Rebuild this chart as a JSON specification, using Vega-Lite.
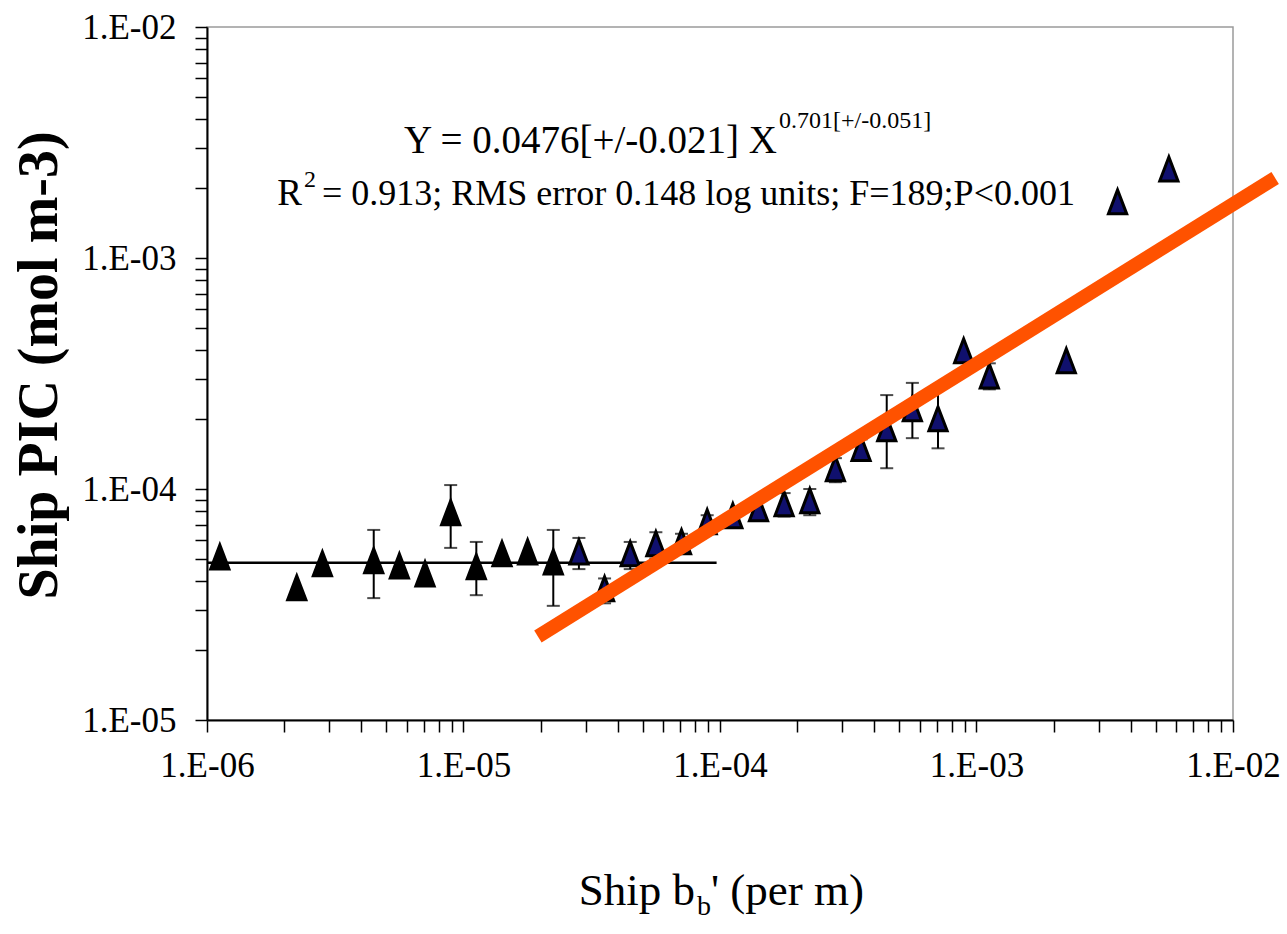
{
  "$schema": "https://vega.github.io/schema/vega-lite/v6.json",
  "width": 1026,
  "height": 693,
  "autosize": {"type": "none"},
  "padding": {"left": 207, "top": 27, "right": 54, "bottom": 214},
  "background": "white",
  "config": {
    "view": {"stroke": "#9a9a9a", "strokeWidth": 1.5},
    "axis": {
      "domainColor": "black", "domainWidth": 2, "tickColor": "black", "tickWidth": 1.5,
      "tickSize": 12, "labelFont": "Liberation Serif", "labelFontSize": 35, "labelColor": "black",
      "grid": false, "labelOverlap": false, "labelFlush": false
    },
    "text": {"font": "Liberation Serif", "color": "black"}
  },
  "encoding": {
    "x": {"field": "x", "type": "quantitative",
      "scale": {"type": "log", "domain": [1e-6, 1e-2], "nice": false},
      "axis": {"title": null, "labelPadding": 16,
        "values": [1e-6,2e-6,3e-6,4e-6,5e-6,6e-6,7e-6,8e-6,9e-6,1e-5,2e-5,3e-5,4e-5,5e-5,6e-5,7e-5,8e-5,9e-5,1e-4,2e-4,3e-4,4e-4,5e-4,6e-4,7e-4,8e-4,9e-4,1e-3,2e-3,3e-3,4e-3,5e-3,6e-3,7e-3,8e-3,9e-3,1e-2],
        "labelExpr": "abs(log(datum.value)/LN10 - round(log(datum.value)/LN10)) < 0.001 ? '1.E-0' + toString(-round(log(datum.value)/LN10)) : ''"}},
    "y": {"field": "y", "type": "quantitative",
      "scale": {"type": "log", "domain": [1e-5, 1e-2], "nice": false},
      "axis": {"title": "Ship PIC (mol m-3)", "labelPadding": 19,
        "titleFont": "Liberation Serif", "titleFontWeight": "bold", "titleFontSize": 56, "titleColor": "black",
        "titleX": -168, "titleY": 338, "titleAngle": -90, "titleAlign": "center", "titleBaseline": "middle",
        "values": [1e-5,2e-5,3e-5,4e-5,5e-5,6e-5,7e-5,8e-5,9e-5,1e-4,2e-4,3e-4,4e-4,5e-4,6e-4,7e-4,8e-4,9e-4,1e-3,2e-3,3e-3,4e-3,5e-3,6e-3,7e-3,8e-3,9e-3,1e-2],
        "labelExpr": "abs(log(datum.value)/LN10 - round(log(datum.value)/LN10)) < 0.001 ? '1.E-0' + toString(-round(log(datum.value)/LN10)) : ''"}}
  },
  "layer": [
    {
      "data": {"values": [{"x": 1e-6, "y": 4.8e-5}, {"x": 9.7e-5, "y": 4.8e-5}]},
      "mark": {"type": "line", "color": "black", "strokeWidth": 2.5}
    },
    {
      "data": {"values": [
        {"x": 4.467e-6, "y": 3.37e-5, "hi": 6.65e-5},
        {"x": 8.913e-6, "y": 5.56e-5, "hi": 1.04e-4},
        {"x": 1.122e-5, "y": 3.47e-5, "hi": 5.9e-5},
        {"x": 2.239e-5, "y": 3.12e-5, "hi": 6.65e-5},
        {"x": 2.818e-5, "y": 4.5e-5, "hi": 6.14e-5},
        {"x": 3.548e-5, "y": 3.2e-5, "hi": 4.1e-5},
        {"x": 4.467e-5, "y": 4.5e-5, "hi": 5.9e-5},
        {"x": 5.623e-5, "y": 5.0e-5, "hi": 6.5e-5},
        {"x": 7.079e-5, "y": 5.3e-5, "hi": 6.4e-5},
        {"x": 8.913e-5, "y": 6.6e-5, "hi": 7.7e-5},
        {"x": 1.778e-4, "y": 7.6e-5, "hi": 9.6e-5},
        {"x": 2.239e-4, "y": 7.7e-5, "hi": 1.0e-4},
        {"x": 2.818e-4, "y": 1.07e-4, "hi": 1.36e-4},
        {"x": 3.548e-4, "y": 1.34e-4, "hi": 1.64e-4},
        {"x": 4.467e-4, "y": 1.23e-4, "hi": 2.55e-4},
        {"x": 5.623e-4, "y": 1.66e-4, "hi": 2.88e-4},
        {"x": 7.079e-4, "y": 1.50e-4, "hi": 2.69e-4},
        {"x": 1.122e-3, "y": 2.7e-4, "hi": 3.5e-4}
      ]},
      "mark": {"type": "errorbar", "ticks": {"size": 13, "thickness": 2, "color": "black"}, "rule": {"strokeWidth": 2, "color": "black"}},
      "encoding": {"y2": {"field": "hi"}}
    },
    {
      "data": {"values": [
        {"x": 1.122e-6, "y": 5.02e-5, "grp": "black"},
        {"x": 2.239e-6, "y": 3.69e-5, "grp": "black"},
        {"x": 2.818e-6, "y": 4.69e-5, "grp": "black"},
        {"x": 4.467e-6, "y": 4.83e-5, "grp": "black"},
        {"x": 5.623e-6, "y": 4.59e-5, "grp": "black"},
        {"x": 7.079e-6, "y": 4.24e-5, "grp": "black"},
        {"x": 8.913e-6, "y": 7.8e-5, "grp": "black"},
        {"x": 1.122e-5, "y": 4.55e-5, "grp": "black"},
        {"x": 1.413e-5, "y": 5.18e-5, "grp": "black"},
        {"x": 1.778e-5, "y": 5.28e-5, "grp": "black"},
        {"x": 2.239e-5, "y": 4.78e-5, "grp": "black"},
        {"x": 2.818e-5, "y": 5.28e-5, "grp": "blue"},
        {"x": 3.548e-5, "y": 3.66e-5, "grp": "blue"},
        {"x": 4.467e-5, "y": 5.18e-5, "grp": "blue"},
        {"x": 5.623e-5, "y": 5.73e-5, "grp": "blue"},
        {"x": 7.079e-5, "y": 5.84e-5, "grp": "blue"},
        {"x": 8.913e-5, "y": 7.13e-5, "grp": "blue"},
        {"x": 1.122e-4, "y": 7.57e-5, "grp": "blue"},
        {"x": 1.413e-4, "y": 8.11e-5, "grp": "blue"},
        {"x": 1.778e-4, "y": 8.53e-5, "grp": "blue"},
        {"x": 2.239e-4, "y": 8.79e-5, "grp": "blue"},
        {"x": 2.818e-4, "y": 1.21e-4, "grp": "blue"},
        {"x": 3.548e-4, "y": 1.48e-4, "grp": "blue"},
        {"x": 4.467e-4, "y": 1.80e-4, "grp": "blue"},
        {"x": 5.623e-4, "y": 2.20e-4, "grp": "blue"},
        {"x": 7.079e-4, "y": 1.99e-4, "grp": "blue"},
        {"x": 8.913e-4, "y": 3.92e-4, "grp": "blue"},
        {"x": 1.122e-3, "y": 3.05e-4, "grp": "blue"},
        {"x": 2.239e-3, "y": 3.55e-4, "grp": "blue"},
        {"x": 3.548e-3, "y": 1.73e-3, "grp": "blue"},
        {"x": 5.623e-3, "y": 2.40e-3, "grp": "blue"}
      ]},
      "mark": {"type": "point", "shape": "M0,-1.15L-0.8,0.95L0.8,0.95Z", "size": 520, "filled": true, "stroke": "black", "strokeWidth": 3, "opacity": 1},
      "encoding": {
        "fill": {"field": "grp", "type": "nominal", "scale": {"domain": ["black", "blue"], "range": ["#000000", "#10106e"]}, "legend": null}
      }
    },
    {
      "data": {"values": [{"x": 1.95e-5, "y": 2.3e-5}, {"x": 1.46e-2, "y": 2.22e-3}]},
      "mark": {"type": "line", "color": "#ff5200", "strokeWidth": 14, "strokeCap": "butt", "clip": false}
    },
    {
      "data": {"values": [{"x": 1.668e-4, "y": 2.848e-3, "label": "Y = 0.0476[+/-0.021] X"}]},
      "mark": {"type": "text", "align": "right", "baseline": "alphabetic", "fontSize": 39},
      "encoding": {"text": {"field": "label"}}
    },
    {
      "data": {"values": [{"x": 1.698e-4, "y": 3.655e-3, "label": "0.701[+/-0.051]"}]},
      "mark": {"type": "text", "align": "left", "baseline": "alphabetic", "fontSize": 24},
      "encoding": {"text": {"field": "label"}}
    },
    {
      "data": {"values": [{"x": 2.346e-6, "y": 1.696e-3, "label": "R"}]},
      "mark": {"type": "text", "align": "right", "baseline": "alphabetic", "fontSize": 37},
      "encoding": {"text": {"field": "label"}}
    },
    {
      "data": {"values": [{"x": 2.389e-6, "y": 2.03e-3, "label": "2"}]},
      "mark": {"type": "text", "align": "left", "baseline": "alphabetic", "fontSize": 24},
      "encoding": {"text": {"field": "label"}}
    },
    {
      "data": {"values": [{"x": 2.807e-6, "y": 1.696e-3, "label": "= 0.913; RMS error 0.148 log units; F=189;P<0.001"}]},
      "mark": {"type": "text", "align": "left", "baseline": "alphabetic", "fontSize": 36},
      "encoding": {"text": {"field": "label"}}
    },
    {
      "data": {"values": [{"x": 7.99e-5, "y": 1.582e-6, "label": "Ship b"}]},
      "mark": {"type": "text", "align": "right", "baseline": "alphabetic", "fontSize": 45},
      "encoding": {"text": {"field": "label"}}
    },
    {
      "data": {"values": [{"x": 8.135e-5, "y": 1.431e-6, "label": "b"}]},
      "mark": {"type": "text", "align": "left", "baseline": "alphabetic", "fontSize": 28},
      "encoding": {"text": {"field": "label"}}
    },
    {
      "data": {"values": [{"x": 9.22e-5, "y": 1.582e-6, "label": "' (per m)"}]},
      "mark": {"type": "text", "align": "left", "baseline": "alphabetic", "fontSize": 45},
      "encoding": {"text": {"field": "label"}}
    }
  ]
}
